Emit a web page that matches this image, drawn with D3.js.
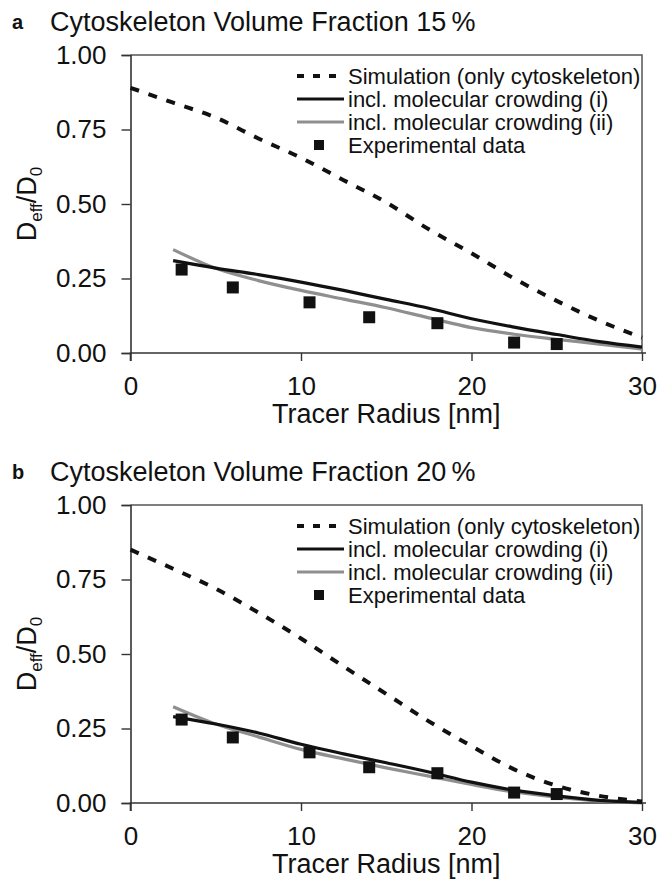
<!DOCTYPE html>
<html>
<head>
<meta charset="utf-8">
<script src="https://cdn.jsdelivr.net/npm/d3@7"></script>
<style>
body { margin: 0; background: #fff; }
svg { display: block; }
text { font-family: "Liberation Sans", Arial, Helvetica, sans-serif; fill: #111; }
</style>
</head>
<body>
<svg id="draw" width="661" height="882"></svg>
<script>
// simulation curves (radius grid 0..30 nm)
let simRadius = [0, 2.5, 5, 7.5, 10, 12.5, 15, 17.5, 20, 22.5, 25, 27.5, 30];
let sim15 = [0.89, 0.84, 0.79, 0.72, 0.655, 0.58, 0.505, 0.415, 0.335, 0.25, 0.175, 0.108, 0.052];
let sim20 = [0.85, 0.786, 0.719, 0.639, 0.552, 0.458, 0.366, 0.274, 0.191, 0.113, 0.058, 0.024, 0.005];

// crowding curves start at 2.5 nm
let crowdRadius = [2.5, 5, 7.5, 10, 12.5, 15, 17.5, 20, 22.5, 25, 27.5, 30];
let crowd15i = [0.31, 0.285, 0.263, 0.238, 0.21, 0.18, 0.15, 0.115, 0.087, 0.062, 0.038, 0.02];
let crowd15ii = [0.347, 0.284, 0.243, 0.210, 0.181, 0.152, 0.118, 0.085, 0.063, 0.046, 0.030, 0.013];
let crowd20i = [0.29, 0.265, 0.235, 0.197, 0.165, 0.135, 0.104, 0.07, 0.043, 0.024, 0.009, 0.002];
let crowd20ii = [0.323, 0.265, 0.222, 0.18, 0.148, 0.118, 0.09, 0.062, 0.037, 0.02, 0.007, 0.0];

// experimental points (same in both panels)
let expRadius = [3, 6, 10.5, 14, 18, 22.5, 25];
let expDeff = [0.28, 0.22, 0.17, 0.12, 0.10, 0.035, 0.03];

let xTicks = [0, 10, 20, 30];
let yTicks = [0, 0.25, 0.5, 0.75, 1];
let legendLabels = ["Simulation (only cytoskeleton)", "incl. molecular crowding (i)", "incl. molecular crowding (ii)", "Experimental data"];

let svg = d3.select("#draw");
let plotW = { left: 130.5, right: 642 }, plotH = 298;

function zip(xs, ys) { return xs.map((x, i) => [x, ys[i]]); }

function drawPanel(offset, letter, title, sim, crowdI, crowdII) {
    let top = 55 + offset;
    let g = svg.append("g");
    let x = d3.scaleLinear().domain([0, 30]).range([plotW.left, plotW.right]);
    let y = d3.scaleLinear().domain([0, 1]).range([top + plotH, top]);

    // title
    g.append("text").attr("x", 12).attr("y", 29 + offset)
        .style("font-size", "20px").style("font-weight", "bold").text(letter);
    g.append("text").attr("x", 50).attr("y", 31 + offset)
        .style("font-size", "27px").text(title);

    // frame (top / right)
    g.append("path")
        .attr("d", `M${plotW.left},${top}H${plotW.right}V${top + plotH}`)
        .attr("fill", "none").attr("stroke", "#555").attr("stroke-width", 1.5);

    let yAxis = g.append("g").attr("transform", `translate(${plotW.left},0)`)
        .call(d3.axisLeft(y).tickValues(yTicks).tickFormat(d3.format(".2f")).tickSize(9).tickPadding(15));
    let xAxis = g.append("g").attr("transform", `translate(0,${top + plotH})`)
        .call(d3.axisBottom(x).tickValues(xTicks).tickSize(8).tickPadding(16));
    [yAxis, xAxis].forEach(a => {
        a.select(".domain").attr("stroke", "#333").attr("stroke-width", 1.6);
        a.selectAll(".tick line").attr("stroke", "#333").attr("stroke-width", 1.4);
        a.selectAll(".tick text").style("font-size", "26px").attr("fill", "#111");
    });
    xAxis.select(".domain").attr("d", `M${plotW.left},8V0H${plotW.right + 4}`);

    // axis titles
    g.append("text").attr("x", (plotW.left + plotW.right) / 2).attr("y", top + plotH + 70)
        .attr("text-anchor", "middle").style("font-size", "27px").text("Tracer Radius [nm]");
    let yl = g.append("text")
        .attr("transform", `translate(36,${top + plotH / 2}) rotate(-90)`)
        .attr("text-anchor", "middle").style("font-size", "27px");
    yl.append("tspan").text("D");
    yl.append("tspan").attr("dy", 6).style("font-size", "17px").text("eff");
    yl.append("tspan").attr("dy", -6).text("/D");
    yl.append("tspan").attr("dy", 6).style("font-size", "17px").text("0");

    let line = d3.line().x(d => x(d[0])).y(d => y(d[1])).curve(d3.curveMonotoneX);

    g.append("path").datum(zip(crowdRadius, crowdII)).attr("d", line)
        .attr("fill", "none").attr("stroke", "#8f8f8f").attr("stroke-width", 3.2);
    g.append("path").datum(zip(crowdRadius, crowdI)).attr("d", line)
        .attr("fill", "none").attr("stroke", "#111").attr("stroke-width", 3.2);
    g.append("path").datum(zip(simRadius, sim)).attr("d", line)
        .attr("fill", "none").attr("stroke", "#111").attr("stroke-width", 4)
        .attr("stroke-dasharray", "9,10");

    g.selectAll("rect.exp").data(zip(expRadius, expDeff)).enter().append("rect")
        .attr("class", "exp")
        .attr("x", d => x(d[0]) - 6).attr("y", d => y(d[1]) - 6)
        .attr("width", 12).attr("height", 12).attr("fill", "#111");

    // legend
    let lx = 297, tx = 348, rows = [21, 44, 67, 90];
    let lg = g.append("g").attr("transform", `translate(0,${top})`);
    lg.append("line").attr("x1", lx).attr("x2", 344).attr("y1", rows[0]).attr("y2", rows[0])
        .attr("stroke", "#111").attr("stroke-width", 4).attr("stroke-dasharray", "7,9");
    lg.append("line").attr("x1", lx).attr("x2", 344).attr("y1", rows[1]).attr("y2", rows[1])
        .attr("stroke", "#111").attr("stroke-width", 3.2);
    lg.append("line").attr("x1", lx).attr("x2", 344).attr("y1", rows[2]).attr("y2", rows[2])
        .attr("stroke", "#8f8f8f").attr("stroke-width", 3.2);
    lg.append("rect").attr("x", 314).attr("y", rows[3] - 5).attr("width", 10).attr("height", 10).attr("fill", "#111");
    lg.selectAll("text.leg").data(legendLabels).enter().append("text")
        .attr("class", "leg").attr("x", tx).attr("y", (d, i) => rows[i]).attr("dy", "0.36em")
        .style("font-size", "22px").text(d => d);
}

drawPanel(0, "a", "Cytoskeleton Volume Fraction 15\u2009%", sim15, crowd15i, crowd15ii);
drawPanel(450, "b", "Cytoskeleton Volume Fraction 20\u2009%", sim20, crowd20i, crowd20ii);
</script>
</body>
</html>
